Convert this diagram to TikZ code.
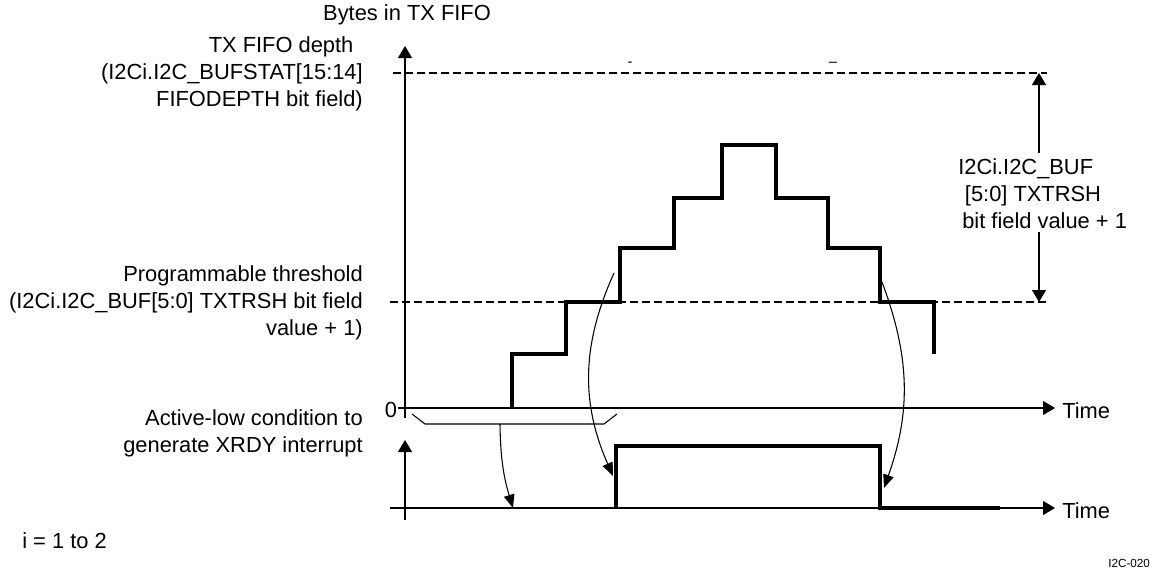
\documentclass[tikz,border=0pt]{standalone}
\usepackage{fontspec}
\setmainfont{Liberation Sans}
\usetikzlibrary{arrows.meta}
\begin{document}
\begin{tikzpicture}[x=0.75pt,y=-0.75pt,
  lbl/.style={inner sep=0pt,font=\fontsize{16.4}{20.25}\selectfont},
  thin/.style={line width=0.8pt},
  thick/.style={line width=3pt},
  dsh/.style={line width=1.5pt,dash pattern=on 6pt off 3pt},
  axarrow/.style={-{Triangle[length=9pt,width=10.5pt]}},
  curvearrow/.style={line width=0.8pt,-{Triangle[length=10pt,width=8pt]}},
  tickmark/.style={inner sep=0pt,font=\fontsize{11}{12}\selectfont}]
\useasboundingbox (0,0) rectangle (1158,571);
% labels
\node[lbl] (ylabel) at (407,15) {Bytes in TX FIFO};
\node[lbl,anchor=east,align=right] (depth) at (363,74) {TX FIFO depth\hspace*{7pt}\\(I2Ci.I2C\_BUFSTAT[15:14]\\FIFODEPTH bit field)};
\node[lbl,anchor=east,align=right] (thr) at (363,303) {Programmable threshold\\(I2Ci.I2C\_BUF[5:0] TXTRSH bit field\\value + 1)};
\node[lbl,anchor=east,align=right] (act) at (363,433.5) {Active-low condition to\\generate XRDY interrupt};
\node[lbl] (zero) at (391,410) {0};
\node[lbl,anchor=west] (time1) at (1062,411) {Time};
\node[lbl,anchor=west] (time2) at (1062,511) {Time};
\node[lbl,anchor=west] (ieq) at (22,541) {i = 1 to 2};
\node[inner sep=0pt,anchor=west,font=\fontsize{8.8}{10}\selectfont] (fig) at (1108,563) {I2C-020};
\node[lbl,align=left,anchor=west] (rlab) at (958,194) {I2Ci.I2C\_BUF\\\hspace*{5pt}{[}5:0{]} TXTRSH\\\hspace*{3pt}bit field value + 1};
\node[tickmark] (m1) at (630,64) {-};
\node[tickmark] (m2) at (833,64) {--};
% axes
\coordinate (ua0) at (405,418); \coordinate (ua1) at (405,46);
\coordinate (zl0) at (398,408); \coordinate (zl1) at (1055,408);
\coordinate (la0) at (405,520); \coordinate (la1) at (405,440);
\coordinate (lb0) at (390,508); \coordinate (lb1) at (1055,508);
\draw[thin,axarrow] (ua0) -- (ua1);
\draw[thin,axarrow] (zl0) -- (zl1);
\draw[thin,axarrow] (la0) -- (la1);
\draw[thin,axarrow] (lb0) -- (lb1);
% dashed lines
\coordinate (d1a) at (393,73); \coordinate (d1b) at (1047,73);
\coordinate (d2a) at (390,302); \coordinate (d2b) at (1047,302);
\draw[dsh] (d1a) -- (d1b);
\draw[dsh] (d2a) -- (d2b);
% right double arrow
\coordinate (rt) at (1039,73); \coordinate (rb) at (1039,302);
\coordinate (ra) at (1039,153); \coordinate (rc) at (1039,232);
\draw[thin,axarrow] (ra) -- (rt);
\draw[thin,axarrow] (rc) -- (rb);
% staircase
\coordinate (s0) at (512,408);
\coordinate (s1) at (934,354);
\draw[thick,line join=miter] (s0) -- (512,354) -- (566,354) -- (566,302) -- (620,302) -- (620,248) -- (674,248) -- (674,198) -- (722,198) -- (722,145) -- (776,145) -- (776,198) -- (828,198) -- (828,248) -- (880,248) -- (880,302) -- (934,302) -- (s1);
% lower waveform
\coordinate (w0) at (616,508);
\coordinate (w1) at (1000,508);
\draw[thick,line join=miter] (w0) -- (616,446) -- (880,446) -- (880,508) -- (w1);
% bracket
\coordinate (b0) at (412,414); \coordinate (b1) at (617,414);
\coordinate (bm) at (500,424);
\draw[thin] (b0) -- (425,424) -- (604,424) -- (b1);
% curved arrows
\coordinate (c1t) at (513,508);
\draw[curvearrow] (bm) to[bend right=8] (c1t);
\coordinate (c2s) at (614,273); \coordinate (c2t) at (613,476);
\draw[curvearrow] (c2s) to[bend right=24] (c2t);
\coordinate (c3s) at (882,282); \coordinate (c3t) at (884,488);
\draw[curvearrow] (c3s) to[bend left=20] (c3t);
\end{tikzpicture}
\end{document}
